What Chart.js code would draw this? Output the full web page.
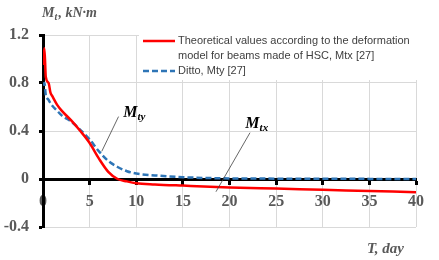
<!DOCTYPE html>
<html>
<head>
<meta charset="utf-8">
<script src="https://cdn.jsdelivr.net/npm/chart.js@4/dist/chart.umd.min.js"></script>
<style>
  body { margin: 0; background: #fff; }
</style>
</head>
<body>
<canvas id="momentChart" width="439" height="260"></canvas>
<script>
// Data
const tDays = [0, 0.15, 0.3, 0.6, 0.8, 1, 1.5, 2, 3, 4, 5, 6, 7, 8, 9, 10, 12, 15, 20, 25, 30, 35, 40];
const mtx = [0.95, 1.09, 0.85, 0.8, 0.72, 0.69, 0.62, 0.57, 0.49, 0.4, 0.3, 0.17, 0.06, 0.0, -0.02, -0.035, -0.045, -0.055, -0.07, -0.08, -0.09, -0.1, -0.11];
const mty = [0.78, 0.8, 0.7, 0.66, 0.63, 0.61, 0.57, 0.53, 0.48, 0.41, 0.33, 0.23, 0.15, 0.1, 0.065, 0.045, 0.03, 0.015, 0.005, 0.003, 0.002, 0.001, 0];
const xTicks = [0, 5, 10, 15, 20, 25, 30, 35, 40];
const yTicks = [-0.4, 0, 0.4, 0.8, 1.2];

const legendLines = ['Theoretical values according to the deformation', 'model for beams made of HSC, Mtx [27]', 'Ditto, Mty [27]'];
// labels on the curves: [main, subscript, text x, text y, line from x,y to x,y] in data units
const curveLabels = [
  ['M', 'ty', 8.6, 0.517, 8.1, 0.52, 6.3, 0.23],
  ['M', 'tx', 21.7, 0.425, 22.2, 0.386, 18.55, -0.106]
];

const serif = "'Liberation Serif', 'Times New Roman', serif";
const sans = "'Liberation Sans', Arial, sans-serif";
const tickGrey = '#595959';

// подписи, легенда и выноски
const extras = {
  id: 'extras',
  afterDraw(chart) {
    const c = chart.ctx;
    const xs = chart.scales.x, ys = chart.scales.y;
    c.save();

    // легенда
    c.fillStyle = '#fff';
    c.fillRect(139, 32, 280, 48);
    c.lineWidth = 2.5;
    c.strokeStyle = '#ff0000';
    c.beginPath(); c.moveTo(143, 41); c.lineTo(175, 41); c.stroke();
    c.strokeStyle = '#2e75b6';
    c.setLineDash([6, 3]);
    c.beginPath(); c.moveTo(143, 71); c.lineTo(175, 71); c.stroke();
    c.setLineDash([]);
    c.fillStyle = '#404040';
    c.font = '11px ' + sans;
    c.textBaseline = 'middle';
    c.fillText(legendLines[0], 178, 41);
    c.fillText(legendLines[1], 178, 56);
    c.fillText(legendLines[2], 178, 71);

    // выноски
    c.textBaseline = 'alphabetic';
    curveLabels.forEach(l => {
      c.strokeStyle = '#404040';
      c.lineWidth = 0.8;
      c.beginPath();
      c.moveTo(xs.getPixelForValue(l[4]), ys.getPixelForValue(l[5]));
      c.lineTo(xs.getPixelForValue(l[6]), ys.getPixelForValue(l[7]));
      c.stroke();
      const px = xs.getPixelForValue(l[2]), py = ys.getPixelForValue(l[3]);
      c.fillStyle = '#000';
      c.font = 'italic bold 16px ' + serif;
      c.fillText(l[0], px, py);
      const w = c.measureText(l[0]).width;
      c.font = 'italic bold 11px ' + serif;
      c.fillText(l[1], px + w, py + 3);
    });

    // подписи осей
    c.fillStyle = tickGrey;
    c.font = 'italic bold 14px ' + serif;
    c.fillText('M', 42, 17);
    let w = c.measureText('M').width;
    c.font = 'italic bold 10px ' + serif;
    c.fillText('t', 42 + w, 20);
    c.font = 'italic bold 14px ' + serif;
    c.fillText(', kN·m', 42 + w + 4, 17);
    c.font = 'italic bold 15px ' + serif;
    c.fillText('T, day', 367, 253);
    c.restore();
  }
};

const ctx = document.getElementById('momentChart').getContext('2d');
const momentChart = new Chart(ctx, {
  type: 'line',
  data: {
    datasets: [
      {
        label: 'Mtx',
        data: tDays.map((t, i) => ({ x: t, y: mtx[i] })),
        borderColor: '#ff0000',
        borderWidth: 2.5,
        pointRadius: 0,
        cubicInterpolationMode: 'monotone',
        fill: false
      },
      {
        label: 'Mty',
        data: tDays.map((t, i) => ({ x: t, y: mty[i] })),
        borderColor: '#2e75b6',
        borderWidth: 2.5,
        borderDash: [6, 3],
        pointRadius: 0,
        cubicInterpolationMode: 'monotone',
        fill: false
      }
    ]
  },
  options: {
    responsive: false,
    animation: false,
    layout: { padding: { left: 0, top: 35, right: 23, bottom: 33 } },
    plugins: { legend: { display: false }, tooltip: { enabled: false } },
    scales: {
      x: {
        type: 'linear',
        position: { y: 0 },
        min: 0, max: 40,
        afterFit(scale) { scale.height = 0; },
        afterBuildTicks(scale) { scale.ticks = xTicks.map(v => ({ value: v })); },
        grid: { color: '#d9d9d9', lineWidth: 1, tickColor: '#000', tickLength: 4, tickWidth: 3 },
        border: { color: '#000', width: 3 },
        ticks: { color: tickGrey, font: { family: serif, size: 16, weight: 'bold' }, padding: 9, maxRotation: 0 }
      },
      y: {
        min: -0.4, max: 1.2,
        afterFit(scale) { scale.width = 43; },
        afterBuildTicks(scale) { scale.ticks = yTicks.map(v => ({ value: v })); },
        grid: { color: '#d9d9d9', lineWidth: 1, tickColor: '#000', tickLength: 4, tickWidth: 3 },
        border: { color: '#000', width: 3 },
        ticks: { color: tickGrey, font: { family: serif, size: 16, weight: 'bold' }, padding: 10,
          callback: v => v === 0 ? '0' : v.toFixed(1) }
      }
    }
  },
  plugins: [extras]
});
</script>
</body>
</html>
